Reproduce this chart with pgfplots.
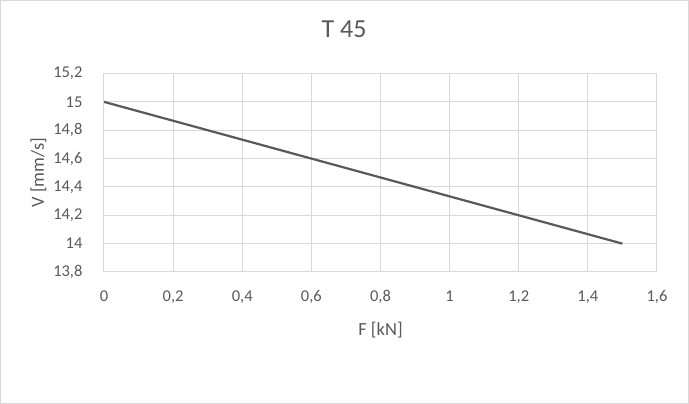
\documentclass[border=0pt]{standalone}
\usepackage{pgfplots}
\pgfplotsset{compat=1.18}
\usepackage{fontspec}
\setmainfont{Carlito}
\definecolor{txt}{HTML}{595959}
\definecolor{gridc}{HTML}{D9D9D9}
\definecolor{linec}{HTML}{595959}

\begin{document}
\begin{tikzpicture}[x=1pt,y=1pt]
% chart frame (Excel chart area)
\draw[gridc, line width=1pt] (-103.5pt,-131.5pt) rectangle (584.5pt,271.5pt);
\begin{axis}[
    at={(0pt,0pt)}, anchor=origin,
    scale only axis,
    width=553pt, height=198.5pt,
    xmin=0, xmax=1.6,
    ymin=13.8, ymax=15.2,
    xtick={0,0.2,...,1.6},
    ytick={13.8,14,...,15.2},
    xmajorgrids=true, ymajorgrids=true,
    grid style={gridc, line width=1pt},
    axis line style={draw=none},
    axis x line*=bottom,
    axis y line*=left,
    tick style={draw=none},
    tick label style={font=\fontsize{16.5}{18}\selectfont, text=txt},
    /pgf/number format/.cd, use comma, assume math mode=true, fixed, precision=1,
    /pgfplots/.cd,
    xticklabel style={anchor=base, yshift=-30pt},
    yticklabel style={anchor=east, xshift=-18pt},
    title={T 45},
    title style={font=\fontsize{26}{28}\selectfont, text=txt,
        at={(axis description cs:0.434,1.151)}, anchor=base},
    xlabel={F [kN]},
    ylabel={V [mm/s]},
    label style={font=\fontsize{18.5}{20}\selectfont, text=txt},
    xlabel style={at={(axis description cs:0.5,-0.322)}, anchor=base},
    ylabel style={at={(axis description cs:-0.1184,0.5)}, anchor=center},
    clip=false,
]
\draw[gridc, line width=1pt] (axis cs:0,13.8) -- (axis cs:1.6,13.8);
\addplot[linec, line width=2.2pt, no marks] coordinates {
    (0,15)
    (1.5,14)
};
\end{axis}
\end{tikzpicture}
\end{document}
